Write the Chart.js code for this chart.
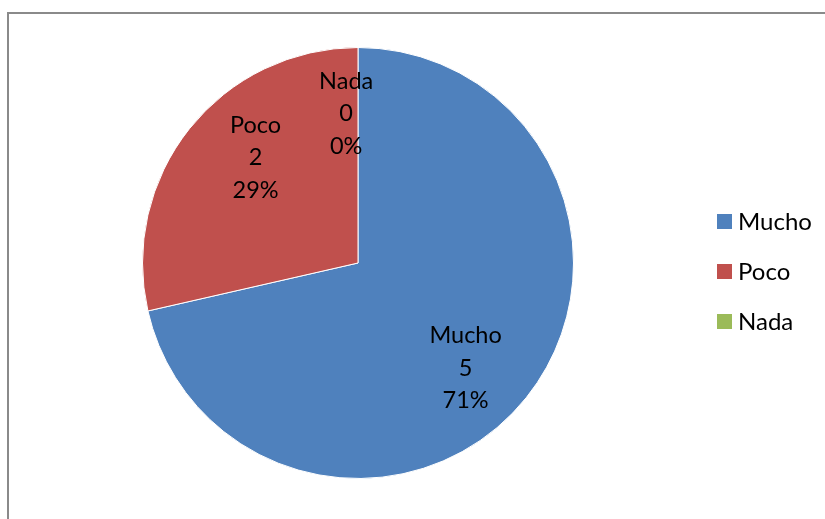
<!DOCTYPE html>
<html>
<head>
<meta charset="utf-8">
<script src="https://cdn.jsdelivr.net/npm/chart.js@4"></script>
<style>
  html,body{margin:0;padding:0;background:#fff;overflow:hidden;}
  #wrap{position:relative;width:825px;height:519px;}
  #frame{position:absolute;left:7px;top:12px;width:830px;height:520px;border-left:2px solid #8a8a8a;border-top:2px solid #8a8a8a;box-sizing:border-box;}
  canvas{position:absolute;left:0;top:0;}
</style>
</head>
<body>
<div id="wrap">
  <div id="frame"></div>
  <canvas id="c" width="825" height="519"></canvas>
</div>
<script>
const categories = ["Mucho", "Poco", "Nada"];
const values = [5, 2, 0];
const percentLabels = ["71%", "29%", "0%"];
const colors = ["#4F81BD", "#C0504D", "#9BBB59"];
// label placement: [angle offset in degrees, radius fraction]
const labelPlacement = [[5.5, 0.695], [7.5, 0.685], [4.5, 0.70]];

const FONT = "Lato, 'Open Sans', sans-serif";

const labelPlugin = {
  id: 'sliceLabels',
  afterDatasetsDraw(chart) {
    const ctx = chart.ctx;
    const meta = chart.getDatasetMeta(0);
    ctx.save();
    ctx.fillStyle = '#000';
    ctx.font = "23.5px " + FONT;
    ctx.textAlign = 'center';
    ctx.textBaseline = 'middle';
    meta.data.forEach((arc, i) => {
      const p = arc.getProps(['x','y','startAngle','endAngle','outerRadius'], true);
      let mid = (p.startAngle + p.endAngle) / 2;
      const [dA, rf] = labelPlacement[i];
      const ang = mid + (i === 2 ? -dA : dA) * Math.PI / 180;
      const r = p.outerRadius * rf;
      const cx = p.x + Math.cos(ang) * r;
      const cy = p.y + Math.sin(ang) * r;
      const lines = [categories[i], String(values[i]), percentLabels[i]];
      const lh = 32.5;
      lines.forEach((t, k) => ctx.fillText(t, cx, cy + (k - 1) * lh + 1));
    });
    ctx.restore();
  }
};

const legendPlugin = {
  id: 'customLegend',
  afterDraw(chart) {
    const ctx = chart.ctx;
    ctx.save();
    ctx.font = "24px " + FONT;
    ctx.textBaseline = 'middle';
    ctx.textAlign = 'left';
    const x0 = chart.chartArea.right + 143;
    const y0 = 221;
    categories.forEach((c, i) => {
      const y = y0 + i * 50;
      ctx.fillStyle = colors[i];
      ctx.fillRect(x0, y - 7, 15, 15);
      ctx.fillStyle = '#000';
      ctx.fillText(c, x0 + 21, y + 1);
    });
    ctx.restore();
  }
};

new Chart(document.getElementById('c'), {
  type: 'pie',
  data: {
    labels: categories,
    datasets: [{
      data: values,
      backgroundColor: colors,
      borderColor: '#ffffff',
      borderWidth: 1
    }]
  },
  options: {
    responsive: false,
    animation: false,
    layout: { padding: { left: 142, right: 251, top: 47, bottom: 40 } },
    plugins: { legend: { display: false }, tooltip: { enabled: false } }
  },
  plugins: [labelPlugin, legendPlugin]
});
</script>
</body>
</html>
